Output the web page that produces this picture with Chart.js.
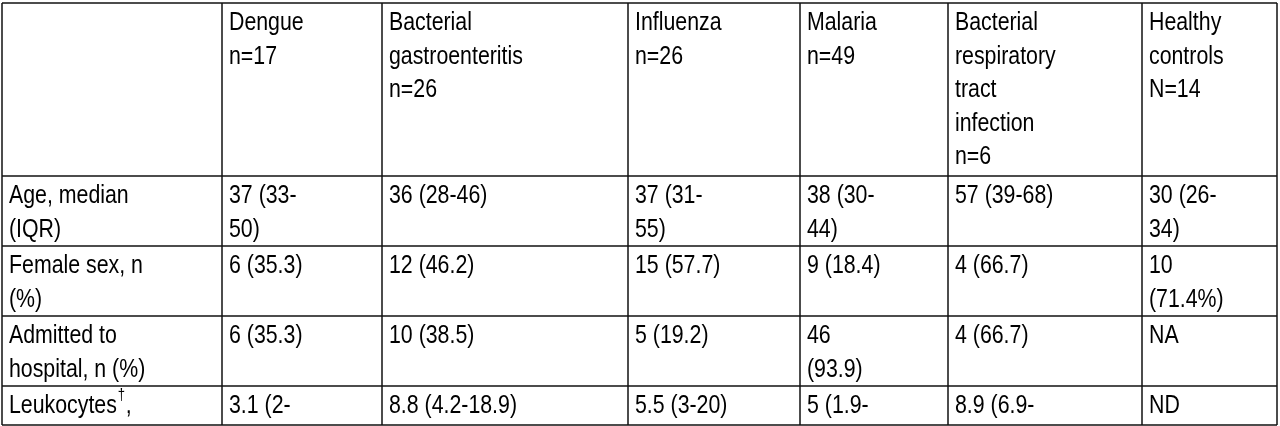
<!DOCTYPE html>
<html><head><meta charset="utf-8">
<script src="https://cdn.jsdelivr.net/npm/chart.js@4/dist/chart.umd.min.js"></script>
<style>html,body{margin:0;padding:0;background:#fff;}canvas{display:block;}</style>
</head><body>
<canvas id="c" width="1280" height="426"></canvas>
<script>
const columns = [["Dengue","n=17"],["Bacterial","gastroenteritis","n=26"],["Influenza","n=26"],["Malaria","n=49"],["Bacterial","respiratory","tract","infection","n=6"],["Healthy","controls","N=14"]];
const rowLabels = [["Age, median","(IQR)"],["Female sex, n","(%)"],["Admitted to","hospital, n (%)"],["Leukocytes\u2020,"]];
const ageValues = [["37 (33-","50)"],["36 (28-46)"],["37 (31-","55)"],["38 (30-","44)"],["57 (39-68)"],["30 (26-","34)"]];
const femaleValues = [["6 (35.3)"],["12 (46.2)"],["15 (57.7)"],["9 (18.4)"],["4 (66.7)"],["10","(71.4%)"]];
const admittedValues = [["6 (35.3)"],["10 (38.5)"],["5 (19.2)"],["46","(93.9)"],["4 (66.7)"],["NA"]];
const leukocyteValues = [["3.1 (2-"],["8.8 (4.2-18.9)"],["5.5 (3-20)"],["5 (1.9-"],["8.9 (6.9-"],["ND"]];
const rowsData = [ageValues, femaleValues, admittedValues, leukocyteValues];

// layout
const colEdges = [2,222,382,628,800,948,1142,1277];
const rowEdges = [3,176,246,316,386,425];

const tablePlugin = {
  id:'table',
  afterDraw(chart){
    const ctx = chart.ctx, xs = chart.scales.x, ys = chart.scales.y;
    const X = v=>xs.getPixelForValue(v), Y = v=>ys.getPixelForValue(v);
    ctx.save();
    ctx.fillStyle='#fff'; ctx.fillRect(0,0,chart.width,chart.height);
    ctx.strokeStyle='#111'; ctx.lineWidth=1.5;
    rowEdges.forEach(r=>{ctx.beginPath();ctx.moveTo(X(colEdges[0]),Y(r));ctx.lineTo(X(colEdges[colEdges.length-1]),Y(r));ctx.stroke();});
    colEdges.forEach(c=>{ctx.beginPath();ctx.moveTo(X(c),Y(rowEdges[0]));ctx.lineTo(X(c),Y(rowEdges[rowEdges.length-1]));ctx.stroke();});
    ctx.fillStyle='#000'; ctx.textBaseline='top';
    const F='26px "Liberation Sans", Arial, sans-serif';
    const sx=0.82, lh=33.5;
    const cell=(lines,ci,ri)=>{
      lines.forEach((t,i)=>{
        const x=X(colEdges[ci])+7, y=Y(rowEdges[ri])+7+i*lh;
        ctx.save(); ctx.translate(x,y); ctx.scale(sx,1); ctx.font=F;
        if(t.includes('\u2020')){
          const [a,b]=t.split('\u2020');
          ctx.fillText(a,0,0); const w=ctx.measureText(a).width;
          ctx.font='16px "Liberation Sans", Arial, sans-serif'; ctx.fillText('\u2020',w+1,-5);
          const w2=ctx.measureText('\u2020').width;
          ctx.font=F; ctx.fillText(b,w+w2+2,0);
        } else ctx.fillText(t,0,0);
        ctx.restore();
      });
    };
    columns.forEach((c,i)=>cell(c,i+1,0));
    rowLabels.forEach((r,i)=>cell(r,0,i+1));
    rowsData.forEach((row,ri)=>row.forEach((v,ci)=>cell(v,ci+1,ri+1)));
    ctx.restore();
  }
};

new Chart(document.getElementById('c'),{
  type:'scatter',
  data:{datasets:[{data:[]}]},
  options:{responsive:false,animation:false,devicePixelRatio:1,
    layout:{padding:0},
    plugins:{legend:{display:false},tooltip:{enabled:false}},
    scales:{x:{type:'linear',min:0,max:1280,display:false},y:{type:'linear',min:0,max:426,reverse:true,display:false}}},
  plugins:[tablePlugin]
});
</script>
</body></html>
